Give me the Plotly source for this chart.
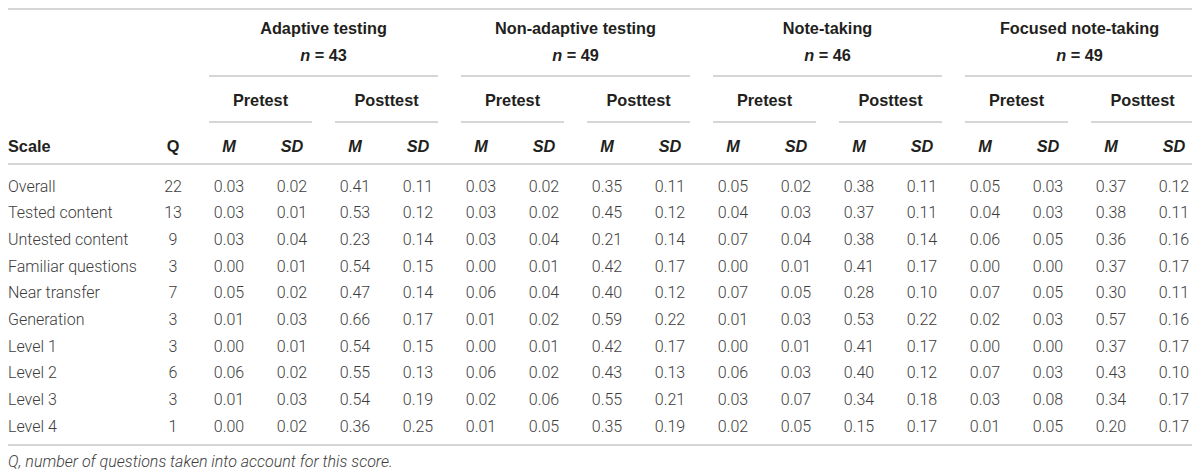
import plotly.graph_objects as go

# ---------------- data ----------------
groups = ["Adaptive testing", "Non-adaptive testing", "Note-taking", "Focused note-taking"]
group_n = [43, 49, 46, 49]
phases = ["Pretest", "Posttest"]
stats = ["M", "SD"]

scales = ["Overall", "Tested content", "Untested content", "Familiar questions",
          "Near transfer", "Generation", "Level 1", "Level 2", "Level 3", "Level 4"]
q_counts = [22, 13, 9, 3, 7, 3, 3, 6, 3, 1]

adaptive_pre_m = [0.03, 0.03, 0.03, 0.00, 0.05, 0.01, 0.00, 0.06, 0.01, 0.00]
adaptive_pre_sd = [0.02, 0.01, 0.04, 0.01, 0.02, 0.03, 0.01, 0.02, 0.03, 0.02]
adaptive_post_m = [0.41, 0.53, 0.23, 0.54, 0.47, 0.66, 0.54, 0.55, 0.54, 0.36]
adaptive_post_sd = [0.11, 0.12, 0.14, 0.15, 0.14, 0.17, 0.15, 0.13, 0.19, 0.25]

nonadaptive_pre_m = [0.03, 0.03, 0.03, 0.00, 0.06, 0.01, 0.00, 0.06, 0.02, 0.01]
nonadaptive_pre_sd = [0.02, 0.02, 0.04, 0.01, 0.04, 0.02, 0.01, 0.02, 0.06, 0.05]
nonadaptive_post_m = [0.35, 0.45, 0.21, 0.42, 0.40, 0.59, 0.42, 0.43, 0.55, 0.35]
nonadaptive_post_sd = [0.11, 0.12, 0.14, 0.17, 0.12, 0.22, 0.17, 0.13, 0.21, 0.19]

note_pre_m = [0.05, 0.04, 0.07, 0.00, 0.07, 0.01, 0.00, 0.06, 0.03, 0.02]
note_pre_sd = [0.02, 0.03, 0.04, 0.01, 0.05, 0.03, 0.01, 0.03, 0.07, 0.05]
note_post_m = [0.38, 0.37, 0.38, 0.41, 0.28, 0.53, 0.41, 0.40, 0.34, 0.15]
note_post_sd = [0.11, 0.11, 0.14, 0.17, 0.10, 0.22, 0.17, 0.12, 0.18, 0.17]

focused_pre_m = [0.05, 0.04, 0.06, 0.00, 0.07, 0.02, 0.00, 0.07, 0.03, 0.01]
focused_pre_sd = [0.03, 0.03, 0.05, 0.00, 0.05, 0.03, 0.00, 0.03, 0.08, 0.05]
focused_post_m = [0.37, 0.38, 0.36, 0.37, 0.30, 0.57, 0.37, 0.43, 0.34, 0.20]
focused_post_sd = [0.12, 0.11, 0.16, 0.17, 0.11, 0.16, 0.17, 0.10, 0.17, 0.17]

footnote = "Q, number of questions taken into account for this score."

columns = [
    adaptive_pre_m, adaptive_pre_sd, adaptive_post_m, adaptive_post_sd,
    nonadaptive_pre_m, nonadaptive_pre_sd, nonadaptive_post_m, nonadaptive_post_sd,
    note_pre_m, note_pre_sd, note_post_m, note_post_sd,
    focused_pre_m, focused_pre_sd, focused_post_m, focused_post_sd,
]

# ---------------- layout geometry ----------------
W, H = 1200, 476
OFF = 8                          # page body margin of the html page
COL0, COLSTEP = 229, 63.0        # centre of first numeric column, pitch
Q_X = 173
SCALE_X = 8
TXT_DY = 2.5                     # optical offset of text centre
ROW0, ROWSTEP = 185 + TXT_DY, 26.7
Y_TITLE, Y_N, Y_PHASE, Y_HEAD = 27 + TXT_DY, 53 + TXT_DY + 1.5, 99 + TXT_DY, 145.5 + TXT_DY
Y_LINE1, Y_LINE2, Y_LINE3 = 76, 122, 164
Y_TOP = 9
Y_BOTTOM = 445
Y_FOOT = 460 + TXT_DY
LINE_L, LINE_R = 8, 1195
PAD = 20

DATA_FONT = dict(family="Roboto, 'Liberation Sans', sans-serif", size=16, color="#3d3d3d", weight=300)
HEAD_FONT = dict(family="'Liberation Sans', Arial, sans-serif", size=16.3, color="#231f20")
LINE_COLOR = "#d6d6d6"

def col_x(k):
    return COL0 + COLSTEP * k

def row_y(i):
    return ROW0 + ROWSTEP * i

fig = go.Figure()

def text_trace(x, y, text, pos, font):
    fig.add_trace(go.Scatter(x=x, y=y, text=text, mode="text", textposition=pos,
                             textfont=font, cliponaxis=False,
                             hoverinfo="skip", showlegend=False))

# body: scale labels
text_trace([SCALE_X] * len(scales), [row_y(i) for i in range(len(scales))],
           scales, "middle right", DATA_FONT)
# Q column
text_trace([Q_X] * len(q_counts), [row_y(i) for i in range(len(q_counts))],
           [str(v) for v in q_counts], "middle center", DATA_FONT)
# numeric columns
for k, col in enumerate(columns):
    text_trace([col_x(k)] * len(col), [row_y(i) for i in range(len(col))],
               [f"{v:.2f}" for v in col], "middle center", DATA_FONT)

# header texts
hx, hy, ht, hp = [], [], [], []
hx.append(SCALE_X); hy.append(Y_HEAD); ht.append("<b>Scale</b>"); hp.append("middle right")
hx.append(Q_X); hy.append(Y_HEAD); ht.append("<b>Q</b>"); hp.append("middle center")
n_stats = len(stats)
n_phase = len(phases)
per_group = n_stats * n_phase
for g, (name, n) in enumerate(zip(groups, group_n)):
    first = g * per_group
    cx = (col_x(first) + col_x(first + per_group - 1)) / 2
    hx += [cx, cx]; hy += [Y_TITLE, Y_N]
    ht += [f"<b>{name}</b>", f"<b><i>n</i> = {n}</b>"]
    hp += ["middle center", "middle center"]
    for p, ph in enumerate(phases):
        a = first + p * n_stats
        px = (col_x(a) + col_x(a + n_stats - 1)) / 2
        hx.append(px); hy.append(Y_PHASE); ht.append(f"<b>{ph}</b>"); hp.append("middle center")
        for s, st in enumerate(stats):
            hx.append(col_x(a + s)); hy.append(Y_HEAD); ht.append(f"<b><i>{st}</i></b>"); hp.append("middle center")
text_trace(hx, hy, ht, hp, HEAD_FONT)

# footnote
text_trace([SCALE_X], [Y_FOOT], [f"<i>{footnote}</i>"], "middle right", DATA_FONT)

# rules
def hline(x0, x1, y):
    fig.add_shape(type="line", xref="x", yref="y", x0=x0, x1=x1, y0=y, y1=y,
                  line=dict(color=LINE_COLOR, width=2))

hline(LINE_L, LINE_R, Y_TOP)
hline(LINE_L, LINE_R, Y_LINE3)
hline(LINE_L, LINE_R, Y_BOTTOM)
for g in range(len(groups)):
    first = g * per_group
    hline(col_x(first) - PAD, col_x(first + per_group - 1) + PAD, Y_LINE1)
    for p in range(n_phase):
        a = first + p * n_stats
        hline(col_x(a) - PAD, col_x(a + n_stats - 1) + PAD, Y_LINE2)

fig.update_layout(
    width=W - OFF, height=H - OFF, margin=dict(l=0, r=0, t=0, b=0),
    paper_bgcolor="white", plot_bgcolor="white",
    xaxis=dict(range=[OFF, W], visible=False, fixedrange=True),
    yaxis=dict(range=[H, OFF], visible=False, fixedrange=True),
    showlegend=False,
)

fig.write_html("out.html")
